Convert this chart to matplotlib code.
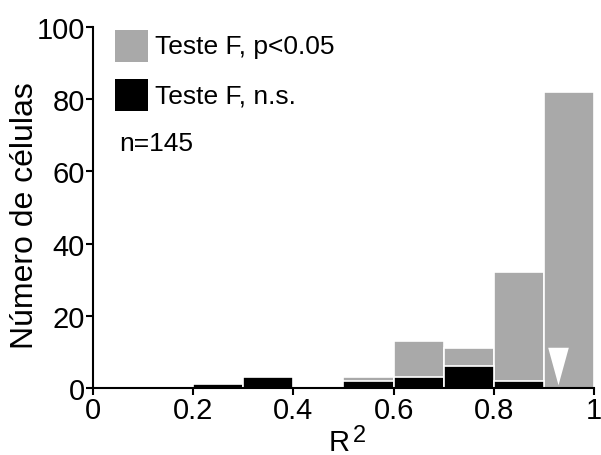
import numpy as np
import matplotlib.pyplot as plt
from matplotlib.patches import Rectangle

plt.rcParams['font.family'] = ['Liberation Sans', 'DejaVu Sans']

# histogram bins of R^2 (left edges, width 0.1)
bin_left = [0.0, 0.1, 0.2, 0.3, 0.4, 0.5, 0.6, 0.7, 0.8, 0.9]
total_counts = [0, 0, 1, 3, 0, 3, 13, 11, 32, 82]   # all cells
ns_counts = [0, 0, 1, 3, 0, 2, 3, 6, 2, 0]          # F test not significant
median_r2 = 0.928
n_cells = 145
labels = ["Teste F, p<0.05", "Teste F, n.s."]

gray = "#a9a9a9"

fig = plt.figure(figsize=(6.01, 4.56), dpi=100)
ax = fig.add_axes([0.1547, 0.1469, 0.8336, 0.7917])

ax.bar(bin_left, total_counts, width=0.1, align="edge", color=gray,
       edgecolor="white", linewidth=1.2)
ax.bar(bin_left, ns_counts, width=0.1, align="edge", color="black",
       edgecolor="white", linewidth=1.2)

# median marker (tall narrow triangle pointing down)
tri = [(-0.55, 1), (0.55, 1), (0, -1)]
ax.plot(median_r2, 6.2, marker=tri, markersize=27, color="white",
        markeredgewidth=0, clip_on=False)

ax.set_xlim(0, 1)
ax.set_ylim(0, 100)
ax.set_xticks([0, 0.2, 0.4, 0.6, 0.8, 1])
ax.set_xticklabels(["0", "0.2", "0.4", "0.6", "0.8", "1"])
ax.set_yticks([0, 20, 40, 60, 80, 100])
ax.tick_params(axis="both", labelsize=21, direction="out", length=5, width=1.5, pad=1)
for s in ["top", "right"]:
    ax.spines[s].set_visible(False)
for s in ["left", "bottom"]:
    ax.spines[s].set_linewidth(1.5)

ax.set_xlabel(r"$\mathregular{R}$", fontsize=21)
ax.xaxis.set_label_coords(0.49, -0.111)
ax.annotate("2", xy=(1, 1), xycoords=ax.xaxis.label, xytext=(2.5, 3),
            textcoords="offset points", fontsize=17, ha="left", va="top")
ax.set_ylabel("Número de células", fontsize=23, labelpad=-3)
ax.yaxis.label.set_y(0.479)

# legend drawn as boxes + text
colors = [gray, "black"]
box_y = [0.903, 0.767]
for c, y0, lab in zip(colors, box_y, labels):
    ax.add_patch(Rectangle((0.044, y0), 0.066, 0.089, transform=ax.transAxes,
                           facecolor=c, edgecolor="none", clip_on=False))
    ax.text(0.124, y0 + 0.044, lab, transform=ax.transAxes, fontsize=19,
            va="center", ha="left")
ax.text(0.052, 0.679, f"n={n_cells}", transform=ax.transAxes, fontsize=19,
        va="center", ha="left")

fig.savefig("out.png", dpi=100)
